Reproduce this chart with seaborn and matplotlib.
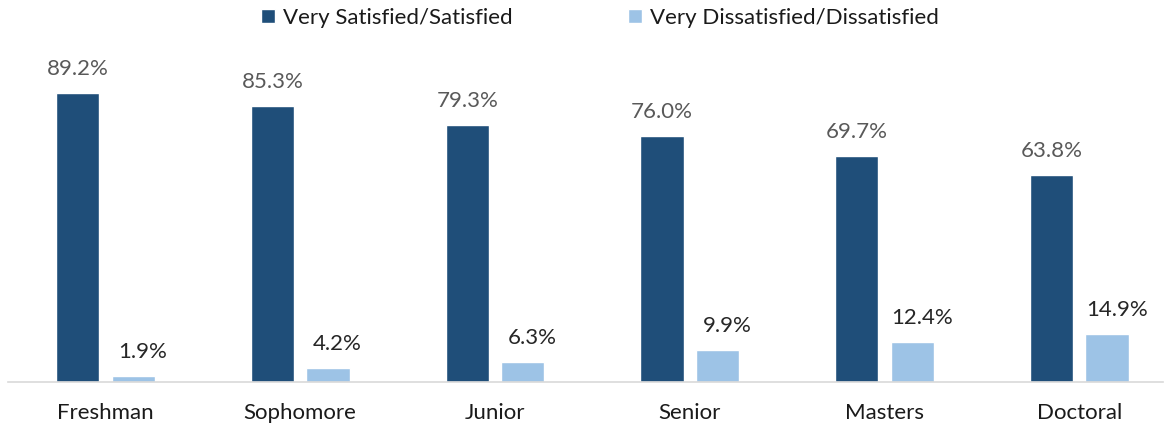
import matplotlib
matplotlib.use("Agg")
import matplotlib.pyplot as plt
import seaborn as sns
import pandas as pd

# Survey satisfaction by class level
categories = ["Freshman", "Sophomore", "Junior", "Senior", "Masters", "Doctoral"]
satisfied = [89.2, 85.3, 79.3, 76.0, 69.7, 63.8]
dissatisfied = [1.9, 4.2, 6.3, 9.9, 12.4, 14.9]
series_names = ["Very Satisfied/Satisfied", "Very Dissatisfied/Dissatisfied"]

colors = ["#1F4E79", "#9DC3E6"]
label_colors = ["#595959", "#262626"]

df = pd.DataFrame({
    "level": categories * 2,
    "value": satisfied + dissatisfied,
    "series": [series_names[0]] * len(categories) + [series_names[1]] * len(categories),
})

sns.set_theme(style="white")
plt.rcParams["font.family"] = ["Lato", "DejaVu Sans"]

fig = plt.figure(figsize=(11.66, 4.25), dpi=100)
ax = fig.add_axes([0.0069, 0.1012, 0.9905, 0.7624])

sns.barplot(data=df, x="level", y="value", hue="series", order=categories,
            hue_order=series_names, palette=colors, width=0.57, gap=0.22,
            saturation=1, ax=ax, legend=True)

ax.set_ylim(0, 100)
ax.set_xlim(-0.5, 5.43)
ax.set_xlabel("")
ax.set_ylabel("")
ax.set_yticks([])
ax.tick_params(axis="x", length=0, labelsize=16, colors="#1a1a1a", pad=15)

for side in ["top", "right", "left"]:
    ax.spines[side].set_visible(False)
ax.spines["bottom"].set_color("#D9D9D9")
ax.spines["bottom"].set_linewidth(1.2)

# value labels above each bar
for i, container in enumerate(ax.containers):
    xoff = 0 if i == 0 else 7
    for bar in container:
        h = bar.get_height()
        ax.annotate(f"{h:.1f}%", (bar.get_x() + bar.get_width() / 2, h),
                    xytext=(xoff, 10), textcoords="offset points",
                    ha="center", va="bottom", fontsize=16,
                    color=label_colors[i])

handles, labels = ax.get_legend_handles_labels()
ax.legend(handles, labels, loc="center", bbox_to_anchor=(600 / 1166, 1 - 18 / 425),
          bbox_transform=fig.transFigure, ncol=2, frameon=False,
          fontsize=16, handlelength=0.62, handleheight=0.62,
          handletextpad=0.35, columnspacing=5.2, labelcolor="#1a1a1a")

fig.savefig("out.png", dpi=100)
